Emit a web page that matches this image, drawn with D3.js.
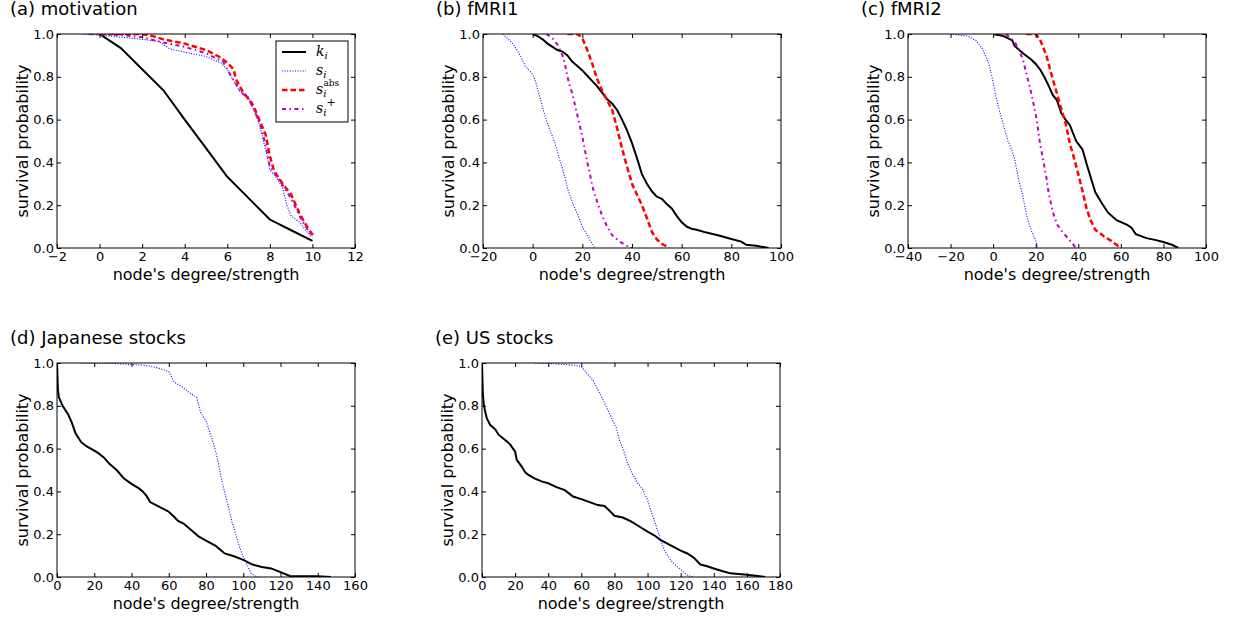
<!DOCTYPE html>
<html>
<head>
    <script src="https://d3js.org/d3.v7.min.js"></script>
    <style>
        body { margin: 0; background: #fff; }
        text { font-family: 'DejaVu Sans', sans-serif; fill: #000; }
    </style>
</head>
<body>
<svg id="fig" width="1235" height="621"></svg>
<script>
    // (a) motivation
    var motivK = [[0,1],[1,0.934],[2,0.835],[3,0.737],[4,0.6],[5,0.467],[6,0.333],[7,0.233],[8,0.133],[9,0.083],[10,0.033]];
    var motivS = [[-0.8,1],[0,0.995],[1,0.985],[2,0.975],[2.8,0.965],[3.3,0.93],[4,0.915],[5,0.895],[5.7,0.865],[6,0.835],[6.3,0.78],[6.6,0.73],[7,0.705],[7.2,0.655],[7.5,0.58],[7.7,0.5],[7.85,0.44],[8,0.365],[8.3,0.33],[8.6,0.28],[8.8,0.2],[9,0.15],[9.4,0.12],[9.7,0.08],[10,0.05]];
    var motivAbs = [[0,1],[2,1],[2.5,0.99],[3,0.975],[4,0.955],[5,0.925],[5.6,0.895],[6,0.865],[6.3,0.835],[6.4,0.79],[6.7,0.735],[7.2,0.67],[7.5,0.6],[7.8,0.53],[8,0.43],[8.2,0.36],[8.6,0.3],[9,0.25],[9.4,0.16],[9.8,0.09],[10.1,0.05]];
    var motivPlus = [[-0.5,1],[1,0.995],[2,0.985],[3,0.96],[4,0.94],[5,0.91],[5.8,0.87],[6.2,0.8],[6.6,0.735],[7,0.695],[7.3,0.64],[7.6,0.56],[7.8,0.48],[8,0.38],[8.5,0.31],[9,0.23],[9.5,0.13],[10,0.05]];

    // (b) fMRI1
    var fmri1K = [[0,1],[2,0.99],[4,0.975],[6,0.955],[8,0.94],[10,0.925],[12,0.918],[14,0.9],[16,0.87],[18,0.85],[20,0.83],[22,0.805],[24,0.78],[26,0.755],[28,0.725],[30,0.695],[32,0.675],[34,0.645],[36,0.6],[38,0.55],[40,0.49],[42,0.42],[44,0.345],[46,0.3],[48,0.265],[50,0.24],[52,0.23],[54,0.205],[56,0.185],[58,0.15],[60,0.12],[62,0.1],[64,0.09],[66,0.085],[70,0.072],[75,0.058],[80,0.042],[84,0.03],[86,0.015],[90,0.01],[95,0]];
    var fmri1S = [[-12,1],[-8,0.955],[-5,0.9],[-3,0.85],[-1,0.825],[0,0.81],[1,0.785],[3,0.7],[5,0.615],[7,0.55],[9,0.49],[10,0.45],[12,0.37],[13,0.33],[14,0.28],[15,0.245],[16,0.215],[18,0.16],[20,0.1],[22,0.06],[24,0.02],[25,0]];
    var fmri1Abs = [[14,1],[18,1],[20,0.98],[22,0.925],[24,0.86],[26,0.79],[28,0.735],[30,0.69],[32,0.645],[34,0.56],[36,0.465],[38,0.38],[40,0.3],[42,0.25],[44,0.2],[46,0.14],[48,0.075],[50,0.04],[52,0.02],[55,0]];
    var fmri1Plus = [[5.5,1],[8,0.98],[10,0.95],[12,0.9],[13,0.86],[14,0.8],[15,0.755],[16,0.72],[17,0.67],[18,0.62],[19,0.57],[20,0.52],[21,0.46],[22,0.4],[23,0.35],[24,0.29],[25,0.25],[26,0.215],[28,0.15],[30,0.1],[32,0.06],[35,0.03],[38,0.01],[40,0]];

    // (c) fMRI2
    var fmri2K = [[0,1],[5,0.99],[9,0.97],[10,0.945],[14,0.91],[18,0.88],[20,0.86],[22,0.835],[24,0.8],[26,0.76],[28,0.715],[30,0.69],[32,0.63],[34,0.6],[36,0.575],[39,0.5],[42,0.46],[44,0.39],[46,0.325],[48,0.26],[51,0.21],[54,0.165],[58,0.13],[63,0.108],[65,0.095],[67,0.065],[72,0.046],[76,0.038],[80,0.028],[84,0.015],[87,0]];
    var fmri2S = [[-20,1],[-12,0.99],[-8,0.97],[-5,0.93],[-2,0.86],[0,0.775],[1,0.72],[3,0.64],[5,0.57],[7,0.5],[9,0.45],[10,0.42],[11,0.37],[12,0.32],[14,0.24],[15,0.19],[16,0.14],[18,0.08],[20,0.035],[21,0]];
    var fmri2Abs = [[15.5,1],[20,1],[22,0.975],[25,0.9],[27,0.825],[30,0.72],[32,0.65],[34,0.585],[36,0.49],[38,0.42],[40,0.345],[42,0.265],[44,0.18],[46,0.125],[48,0.085],[52,0.055],[56,0.03],[60,0]];
    var fmri2Plus = [[6,1],[10,0.965],[12,0.93],[14,0.88],[16,0.8],[18,0.72],[20,0.625],[21,0.56],[22,0.49],[24,0.385],[25,0.33],[26,0.26],[28,0.17],[30,0.11],[33,0.07],[36,0.035],[39,0]];

    // (d) Japanese stocks
    var jpK = [[0,1],[0.5,0.875],[1,0.84],[3,0.8],[6,0.76],[8,0.72],[10,0.67],[13,0.63],[16,0.61],[20,0.59],[22,0.58],[25,0.56],[28,0.53],[32,0.5],[36,0.46],[40,0.435],[44,0.414],[46,0.4],[48,0.38],[50,0.35],[55,0.328],[60,0.305],[63,0.28],[65,0.262],[68,0.25],[72,0.22],[76,0.19],[80,0.17],[85,0.147],[88,0.125],[90,0.11],[95,0.097],[100,0.08],[105,0.058],[110,0.047],[115,0.04],[120,0.023],[125,0.005],[130,0.004],[140,0.003],[147,0]];
    var jpS = [[13,1],[30,0.998],[40,0.993],[46,0.99],[50,0.985],[55,0.975],[60,0.96],[63,0.91],[67,0.89],[72,0.855],[75,0.84],[77,0.77],[80,0.73],[82,0.675],[84,0.625],[86,0.56],[88,0.47],[90,0.395],[92,0.33],[94,0.255],[96,0.2],[98,0.14],[100,0.094],[102,0.06],[104,0.02],[106,0.005],[108,0]];

    // (e) US stocks
    var usK = [[0,1],[0.5,0.86],[1,0.81],[2,0.77],[3,0.74],[5,0.71],[8,0.69],[10,0.665],[14,0.64],[17,0.62],[20,0.586],[21,0.547],[24,0.516],[26,0.49],[28,0.477],[32,0.46],[36,0.447],[40,0.438],[45,0.42],[50,0.406],[55,0.376],[60,0.364],[65,0.35],[70,0.336],[74,0.332],[77,0.31],[80,0.286],[85,0.278],[90,0.26],[95,0.236],[100,0.212],[104,0.195],[108,0.172],[112,0.156],[116,0.14],[120,0.123],[124,0.11],[128,0.09],[132,0.058],[136,0.05],[140,0.04],[145,0.028],[150,0.017],[160,0.011],[165,0.006],[171,0]];
    var usS = [[32,1],[40,0.998],[50,0.993],[55,0.99],[60,0.984],[63,0.955],[67,0.92],[70,0.875],[73,0.83],[76,0.78],[79,0.73],[81,0.7],[83,0.64],[86,0.58],[88,0.53],[91,0.48],[94,0.44],[97,0.41],[100,0.36],[102,0.31],[104,0.266],[106,0.22],[108,0.17],[110,0.13],[112,0.1],[115,0.07],[118,0.047],[121,0.028],[124,0.008],[126,0.003],[128,0]];

    var yTicks = [0, 0.2, 0.4, 0.6, 0.8, 1.0];

    var panels = [
        { title: "(a) motivation", left: 57, top: 34, xDomain: [-2, 12], xTicks: d3.range(-2, 13, 2),
          series: [["k", motivK], ["s", motivS], ["abs", motivAbs], ["plus", motivPlus]], legend: true },
        { title: "(b) fMRI1", left: 483, top: 34, xDomain: [-20, 100], xTicks: d3.range(-20, 101, 20),
          series: [["k", fmri1K], ["s", fmri1S], ["abs", fmri1Abs], ["plus", fmri1Plus]] },
        { title: "(c) fMRI2", left: 908, top: 34, xDomain: [-40, 100], xTicks: d3.range(-40, 101, 20),
          series: [["k", fmri2K], ["s", fmri2S], ["abs", fmri2Abs], ["plus", fmri2Plus]] },
        { title: "(d) Japanese stocks", left: 57, top: 363, xDomain: [0, 160], xTicks: d3.range(0, 161, 20),
          series: [["k", jpK], ["s", jpS]] },
        { title: "(e) US stocks", left: 482, top: 363, xDomain: [0, 180], xTicks: d3.range(0, 181, 20),
          series: [["k", usK], ["s", usS]] }
    ];

    var styles = {
        k:    { color: "#000000", width: 2,   dash: null },
        s:    { color: "#0000ff", width: 1.1, dash: "1,1.6" },
        abs:  { color: "#ff0000", width: 2.5, dash: "5.5,3" },
        plus: { color: "#bf00bf", width: 2,   dash: "4,3.5,1.5,3.5" }
    };

    var W = 298, H = 214;
    var svg = d3.select("#fig");
    svg.append("rect").attr("width", 1235).attr("height", 621).attr("fill", "#fff");

    function fmt(d) {
        if (d < 0) return "\u2212" + Math.abs(d);
        return d;
    }

    panels.forEach(function (p) {
        var g = svg.append("g").attr("transform", "translate(" + p.left + "," + p.top + ")");
        var x = d3.scaleLinear().domain(p.xDomain).range([0, W]);
        var y = d3.scaleLinear().domain([0, 1]).range([H, 0]);

        var clipId = "clip" + p.left + "_" + p.top;
        g.append("clipPath").attr("id", clipId)
            .append("rect").attr("width", W).attr("height", H);

        var line = d3.line().x(function (d) { return x(d[0]); }).y(function (d) { return y(d[1]); });
        var plot = g.append("g").attr("clip-path", "url(#" + clipId + ")");
        p.series.forEach(function (s) {
            var st = styles[s[0]];
            plot.append("path")
                .datum(s[1])
                .attr("d", line)
                .attr("fill", "none")
                .attr("stroke", st.color)
                .attr("stroke-width", st.width)
                .attr("stroke-dasharray", st.dash);
        });

        // axes, inward ticks on all four sides
        g.append("g").attr("transform", "translate(0," + H + ")")
            .call(d3.axisBottom(x).tickValues(p.xTicks).tickSize(-4).tickPadding(4).tickFormat(fmt));
        g.append("g")
            .call(d3.axisTop(x).tickValues(p.xTicks).tickSize(-4).tickFormat(""));
        g.append("g")
            .call(d3.axisLeft(y).tickValues(yTicks).tickSize(-4).tickPadding(3).tickFormat(d3.format(".1f")));
        g.append("g").attr("transform", "translate(" + W + ",0)")
            .call(d3.axisRight(y).tickValues(yTicks).tickSize(-4).tickFormat(""));
        g.selectAll(".domain").remove();
        g.selectAll(".tick line").attr("stroke", "#000").attr("stroke-width", 1);
        g.selectAll(".tick text").style("font-family", "'DejaVu Sans', sans-serif").style("font-size", "13px").attr("fill", "#000");

        g.append("rect").attr("width", W).attr("height", H)
            .attr("fill", "none").attr("stroke", "#000").attr("stroke-width", 1);

        g.append("text")
            .attr("x", W / 2).attr("y", H + 32)
            .attr("text-anchor", "middle")
            .style("font-size", "16px")
            .text("node's degree/strength");

        g.append("text")
            .attr("transform", "translate(-29," + (H / 2) + ") rotate(-90)")
            .attr("text-anchor", "middle")
            .style("font-size", "16px")
            .text("survival probability");

        svg.append("text")
            .attr("x", p.left - 47).attr("y", p.top - 19)
            .style("font-size", "18px")
            .text(p.title);

        if (p.legend) {
            var lg = g.append("g").attr("transform", "translate(" + (W - 79) + ",7)");
            lg.append("rect").attr("width", 72).attr("height", 81)
                .attr("fill", "#fff").attr("stroke", "#000").attr("stroke-width", 1);
            var rows = ["k", "s", "abs", "plus"];
            rows.forEach(function (key, i) {
                var ry = 11 + i * 19;
                var st = styles[key];
                lg.append("line")
                    .attr("x1", 6).attr("x2", 30).attr("y1", ry).attr("y2", ry)
                    .attr("stroke", st.color).attr("stroke-width", st.width)
                    .attr("stroke-dasharray", st.dash);
                var t = lg.append("text")
                    .attr("x", 40).attr("y", ry + 4)
                    .style("font-family", "'DejaVu Serif', serif")
                    .style("font-style", "italic")
                    .style("font-size", "14px");
                t.append("tspan").text(key === "k" ? "k" : "s");
                t.append("tspan").attr("dy", 3).style("font-size", "10px").text("i");
                if (key === "abs") {
                    t.append("tspan").attr("dx", -3).attr("dy", -11).style("font-size", "9px")
                        .style("font-style", "normal").text("abs");
                }
                if (key === "plus") {
                    t.append("tspan").attr("dx", 0).attr("dy", -10).style("font-size", "11px")
                        .style("font-style", "normal").text("+");
                }
            });
        }
    });
</script>
</body>
</html>
